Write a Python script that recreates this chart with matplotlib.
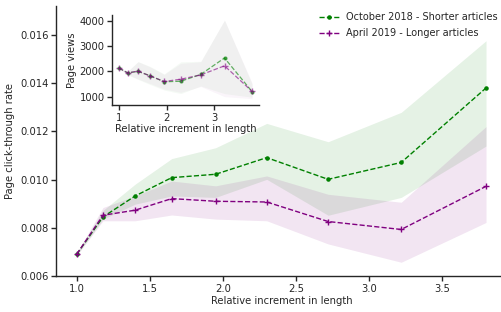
import matplotlib
matplotlib.use("Agg")
import matplotlib.pyplot as plt

# relative increment in length (bin centres)
length_inc = [1.0, 1.18, 1.4, 1.65, 1.95, 2.3, 2.72, 3.22, 3.8]

# click-through rate, mean and band
ctr_oct = [0.0069, 0.00845, 0.00932, 0.01008, 0.01022, 0.01091, 0.01001, 0.01071, 0.0138]
ctr_oct_lo = [0.00685, 0.00836, 0.00898, 0.00932, 0.00926, 0.01001, 0.00852, 0.00926, 0.01139]
ctr_oct_hi = [0.00695, 0.00872, 0.00981, 0.01087, 0.01132, 0.01233, 0.01157, 0.01279, 0.01576]
ctr_apr = [0.0069, 0.00852, 0.00873, 0.00921, 0.0091, 0.00907, 0.00826, 0.00793, 0.00972]
ctr_apr_lo = [0.00685, 0.00829, 0.00829, 0.00853, 0.00836, 0.00829, 0.00733, 0.00657, 0.00822]
ctr_apr_hi = [0.00695, 0.00884, 0.00932, 0.00994, 0.00974, 0.01015, 0.00939, 0.00906, 0.0122]

# page views (inset)
views_oct = [2130, 1940, 2000, 1830, 1590, 1610, 1880, 2530, 1200]
views_oct_lo = [2100, 1860, 1680, 1480, 1260, 1120, 1420, 1120, 980]
views_oct_hi = [2160, 2000, 2390, 2200, 1900, 2380, 2400, 4030, 1500]
views_apr = [2130, 1940, 2010, 1820, 1600, 1690, 1860, 2220, 1210]
views_apr_lo = [2100, 1880, 1700, 1520, 1300, 1170, 1400, 1000, 920]
views_apr_hi = [2160, 2000, 2380, 2180, 1880, 2320, 2380, 4030, 1550]

labels = ["October 2018 - Shorter articles", "April 2019 - Longer articles"]

dark = "#262626"
fs = 7.2
plt.rcParams.update({
    "font.family": "DejaVu Sans",
    "font.size": fs,
    "text.color": dark,
    "axes.labelcolor": dark,
    "axes.edgecolor": dark,
    "xtick.color": dark,
    "ytick.color": dark,
    "axes.linewidth": 1.0,
    "xtick.major.width": 1.0,
    "ytick.major.width": 1.0,
    "xtick.major.size": 3.5,
    "ytick.major.size": 3.5,
})


def style(ax):
    ax.spines["top"].set_visible(False)
    ax.spines["right"].set_visible(False)
    ax.tick_params(labelsize=fs, pad=2)


fig = plt.figure(figsize=(5.01, 3.12), dpi=100)
ax = fig.add_axes([56.2 / 501, 36 / 312, 450.3 / 501, 270 / 312])

ax.fill_between(length_inc, ctr_oct_lo, ctr_oct_hi, color="green", alpha=0.1, lw=0)
ax.fill_between(length_inc, ctr_apr_lo, ctr_apr_hi, color="purple", alpha=0.1, lw=0)
ax.plot(length_inc, ctr_oct, ls="--", marker=".", ms=4.5, lw=1.0, color="green", label=labels[0])
ax.plot(length_inc, ctr_apr, ls="--", marker="+", ms=5, lw=1.0, color="purple", label=labels[1])
ax.set_xlim(0.86, 3.94)
ax.set_ylim(0.006, 0.0172)
ax.set_xticks([1.0, 1.5, 2.0, 2.5, 3.0, 3.5])
ax.set_yticks([0.006, 0.008, 0.010, 0.012, 0.014, 0.016])
ax.set_yticklabels(["0.006", "0.008", "0.010", "0.012", "0.014", "0.016"])
ax.set_xlabel("Relative increment in length", fontsize=fs, labelpad=2)
ax.set_ylabel("Page click-through rate", fontsize=fs, labelpad=4)
style(ax)

ax.legend(loc="upper right", bbox_to_anchor=(498 / 501, 1 - 12.5 / 312),
          bbox_transform=fig.transFigure, frameon=False, fontsize=7,
          borderpad=0, borderaxespad=0, handlelength=2.0, labelspacing=0.6)

# inset with page views
ins = fig.add_axes([112.4 / 501, 1 - 105 / 312, 146.3 / 501, 90 / 312])
ins.fill_between(length_inc, views_oct_lo, views_oct_hi, color="green", alpha=0.04, lw=0)
ins.fill_between(length_inc, views_apr_lo, views_apr_hi, color="purple", alpha=0.04, lw=0)
ins.plot(length_inc, views_oct, ls="--", marker=".", ms=4, lw=0.9, color="green", alpha=0.6)
ins.plot(length_inc, views_apr, ls="--", marker="+", ms=5, lw=0.9, color="purple", alpha=0.6)
ins.set_xlim(0.86, 3.94)
ins.set_ylim(670, 4230)
ins.set_xticks([1, 2, 3])
ins.set_yticks([1000, 2000, 3000, 4000])
ins.set_xlabel("Relative increment in length", fontsize=fs, labelpad=1)
ins.set_ylabel("Page views", fontsize=fs, labelpad=2)
style(ins)

fig.savefig("out.png", dpi=100)
